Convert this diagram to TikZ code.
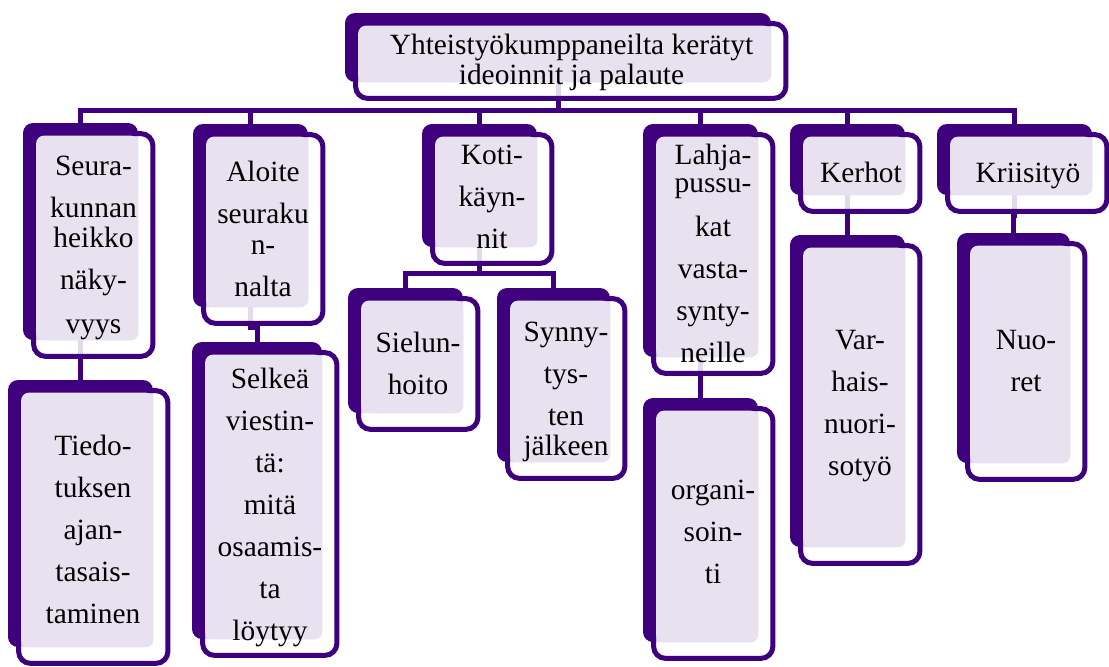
\documentclass[tikz,border=0pt]{standalone}
\usepackage{fontspec}
\setmainfont{Liberation Serif}
\usetikzlibrary{fit}
\definecolor{deep}{RGB}{63,0,125}
\definecolor{pale}{RGB}{232,226,240}

\begin{document}
\begin{tikzpicture}[x=0.5pt, y=-0.5pt,
        back/.style = {fill=deep, rounded corners=5pt, inner sep=0pt},
        frame/.style = {draw=deep, line width=2.5pt, fill=white, fill opacity=0.85, rounded corners=6pt},
        sheet/.style = {fill=pale, rounded corners=4pt},
        link/.style = {draw=deep, line width=2.5pt},
        txt/.style = {anchor=north, align=center, inner sep=0pt,
            font=\fontsize{14.7}{21}\selectfont, execute at begin node={\rule{0pt}{10pt}}}]

    \useasboundingbox (0,0) rectangle (1109,666);

    % Back plates
    \node[back, fit={(345,13) (771,82)}] (top) {};
    \node[back, fit={(23,123) (138,340)}] (seura) {};
    \node[back, fit={(8,380) (153,647)}] (tiedo) {};
    \node[back, fit={(193,124) (308,307)}] (aloite) {};
    \node[back, fit={(192,342) (322,639)}] (selkea) {};
    \node[back, fit={(422,124) (537,247)}] (koti) {};
    \node[back, fit={(348,288) (463,413)}] (sielun) {};
    \node[back, fit={(497,288) (610,462)}] (synny) {};
    \node[back, fit={(643,124) (758,357)}] (lahja) {};
    \node[back, fit={(643,398) (758,642)}] (organi) {};
    \node[back, fit={(790,124) (905,195)}] (kerhot) {};
    \node[back, fit={(790,235) (905,547)}] (varhais) {};
    \node[back, fit={(937,124) (1092,195)}] (kriisi) {};
    \node[back, fit={(957,233) (1070,463)}] (nuoret) {};

    % Bus lines
    \coordinate (bus) at (0,110);
    \coordinate (kotibus) at (0,273);

    % Top to columns
    \draw[link] (top.south) -- (top.south |- bus) -| (seura.north);
    \draw[link] (top.south) -- (top.south |- bus) -| (aloite.north);
    \draw[link] (top.south) -- (top.south |- bus) -| (koti.north);
    \draw[link] (top.south) -- (top.south |- bus) -| (lahja.north);
    \draw[link] (top.south) -- (top.south |- bus) -| (kerhot.north);
    \draw[link] (top.south) -- (top.south |- bus) -| (kriisi.north);

    % Columns downwards
    \draw[link] (seura.south) -- (tiedo.north);
    \draw[link] (aloite.south) -- ++(0,20) -| (selkea.north);
    \draw[link] (koti.south) -- (koti.south |- kotibus) -| (sielun.north);
    \draw[link] (koti.south) -- (koti.south |- kotibus) -| (synny.north);
    \draw[link] (lahja.south) -- (organi.north);
    \draw[link] (kerhot.south) -- (varhais.north);
    \draw[link] (kriisi.south) -- ++(0,20) -| (nuoret.north);

    % Frames and sheets
    \draw[frame] ([shift={(11,11)}]top.north west) rectangle ([shift={(14.5,16)}]top.south east);
    \fill[sheet] ([shift={(13.5,13)}]top.north west) rectangle (top.south east);
    \draw[frame] ([shift={(11,11)}]seura.north west) rectangle ([shift={(14.5,16)}]seura.south east);
    \fill[sheet] ([shift={(13.5,13)}]seura.north west) rectangle (seura.south east);
    \draw[frame] ([shift={(11,11)}]tiedo.north west) rectangle ([shift={(14.5,16)}]tiedo.south east);
    \fill[sheet] ([shift={(13.5,13)}]tiedo.north west) rectangle (tiedo.south east);
    \draw[frame] ([shift={(11,11)}]aloite.north west) rectangle ([shift={(14.5,16)}]aloite.south east);
    \fill[sheet] ([shift={(13.5,13)}]aloite.north west) rectangle (aloite.south east);
    \draw[frame] ([shift={(11,11)}]selkea.north west) rectangle ([shift={(14.5,16)}]selkea.south east);
    \fill[sheet] ([shift={(13.5,13)}]selkea.north west) rectangle (selkea.south east);
    \draw[frame] ([shift={(11,11)}]koti.north west) rectangle ([shift={(14.5,16)}]koti.south east);
    \fill[sheet] ([shift={(13.5,13)}]koti.north west) rectangle (koti.south east);
    \draw[frame] ([shift={(11,11)}]sielun.north west) rectangle ([shift={(14.5,16)}]sielun.south east);
    \fill[sheet] ([shift={(13.5,13)}]sielun.north west) rectangle (sielun.south east);
    \draw[frame] ([shift={(11,11)}]synny.north west) rectangle ([shift={(14.5,16)}]synny.south east);
    \fill[sheet] ([shift={(13.5,13)}]synny.north west) rectangle (synny.south east);
    \draw[frame] ([shift={(11,11)}]lahja.north west) rectangle ([shift={(14.5,16)}]lahja.south east);
    \fill[sheet] ([shift={(13.5,13)}]lahja.north west) rectangle (lahja.south east);
    \draw[frame] ([shift={(11,11)}]organi.north west) rectangle ([shift={(14.5,16)}]organi.south east);
    \fill[sheet] ([shift={(13.5,13)}]organi.north west) rectangle (organi.south east);
    \draw[frame] ([shift={(11,11)}]kerhot.north west) rectangle ([shift={(14.5,16)}]kerhot.south east);
    \fill[sheet] ([shift={(13.5,13)}]kerhot.north west) rectangle (kerhot.south east);
    \draw[frame] ([shift={(11,11)}]varhais.north west) rectangle ([shift={(14.5,16)}]varhais.south east);
    \fill[sheet] ([shift={(13.5,13)}]varhais.north west) rectangle (varhais.south east);
    \draw[frame] ([shift={(11,11)}]kriisi.north west) rectangle ([shift={(14.5,16)}]kriisi.south east);
    \fill[sheet] ([shift={(13.5,13)}]kriisi.north west) rectangle (kriisi.south east);
    \draw[frame] ([shift={(11,11)}]nuoret.north west) rectangle ([shift={(14.5,16)}]nuoret.south east);
    \fill[sheet] ([shift={(13.5,13)}]nuoret.north west) rectangle (nuoret.south east);

    % Texts
    \node[txt] (topT) at (571.5,34) {Yhteistyökumppaneilta kerätyt\\[-6.3pt]ideoinnit ja palaute};
    \node[txt] (seuraT) at (93.5,155.7) {Seura-\\kunnan\\[-6pt]heikko\\näky-\\[1pt]vyys};
    \node[txt] (tiedoT) at (93,435) {Tiedo-\\tuksen\\ajan-\\tasais-\\taminen};
    \node[txt] (aloiteT) at (263,160.7) {Aloite\\seuraku\\[-5.5pt]n-\\nalta};
    \node[txt] (selkeaT) at (270,368) {Selkeä\\viestin-\\tä:\\mitä\\osaamis-\\ta\\löytyy};
    \node[txt] (kotiT) at (492,145) {Koti-\\käyn-\\nit};
    \node[txt] (sielunT) at (418,331.7) {Sielun-\\hoito};
    \node[txt] (synnyT) at (566,321.7) {Synny-\\tys-\\ten\\[-6pt]jälkeen};
    \node[txt] (lahjaT) at (713,143.3) {Lahja-\\[-7pt]pussu-\\[1pt]kat\\vasta-\\synty-\\neille};
    \node[txt] (organiT) at (713,480) {organi-\\soin-\\ti};
    \node[txt] (kerhotT) at (861,161.7) {Kerhot};
    \node[txt] (varhaisT) at (860,330) {Var-\\hais-\\nuori-\\sotyö};
    \node[txt] (kriisiT) at (1028,162) {Kriisityö};
    \node[txt] (nuoretT) at (1026,330) {Nuo-\\ret};

\end{tikzpicture}
\end{document}
